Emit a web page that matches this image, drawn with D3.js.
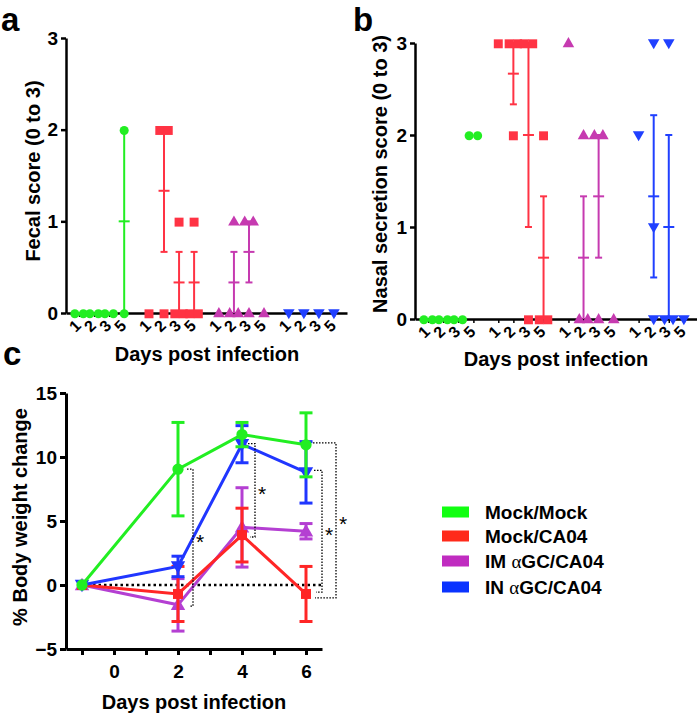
<!DOCTYPE html>
<html><head><meta charset="utf-8">
<script src="https://cdn.jsdelivr.net/npm/d3@7"></script>
<style>
body{margin:0;background:#fff}
text{font-family:"Liberation Sans",Arial,sans-serif;font-weight:bold;fill:#000}
</style>
</head><body>
<svg id="chart" width="697" height="717"></svg>
<script>
// ---------------- DATA ----------------
const groups = ["Mock/Mock", "Mock/CA04", "IM \u03B1GC/CA04", "IN \u03B1GC/CA04"];
const scoreDays = [1, 2, 3, 5];
const scoreDayLabels = ["1", "2", "3", "5"];
const scoreTicks = [0, 1, 2, 3];

// individual scores per day (days 1,2,3,5)
const fecalMockMock = [[0, 0], [0, 0], [0, 0], [0, 2]];
const fecalMockCA04 = [[0], [2, 2, 0], [1, 0, 0], [1, 0, 0]];
const fecalIMaGC    = [[0], [1, 0, 0], [1, 1, 0], [0]];
const fecalINaGC    = [[0], [0], [0], [0]];

const nasalMockMock = [[0, 0], [0, 0], [0, 0], [2, 2]];
const nasalMockCA04 = [[3], [3, 3, 2], [3, 3, 0], [2, 0, 0]];
const nasalIMaGC    = [[3], [2, 0, 0], [2, 2, 0], [0]];
const nasalINaGC    = [[2], [3, 1, 0], [3, 0, 0], [0]];

// body weight change (mean, SEM)
const weightDays = [-1, 2, 4, 6];
const weightTicks = [-5, 0, 5, 10, 15];
const weightMockMock = [0, 9.05, 11.75, 10.95];
const semMockMock    = [0, 3.65, 0.95, 2.5];
const weightMockCA04 = [0, -0.7, 3.9, -0.7];
const semMockCA04    = [0, 2.15, 2.1, 2.15];
const weightIMaGC    = [0, -1.55, 4.5, 4.2];
const semIMaGC       = [0, 2.05, 3.1, 0.6];
const weightINaGC    = [0, 1.45, 11.0, 8.8];
const semINaGC       = [0, 0.8, 1.45, 2.4];

// significance brackets: day, upper value, lower value
const sigDays  = [2, 4, 6, 6];
const sigUpper = [9.05, 11.05, 8.95, 11.1];
const sigLower = [-1.65, 3.75, -0.55, -1.0];
const sigLabel = ["*", "*", "*", "*"];

// ---------------- STYLE ----------------
const scatterColors = ["#22ee22", "#ff3344", "#c63ab0", "#2040ff"];
const lineColors    = ["#22ee22", "#ff2626", "#b43fd2", "#2036ff"];
const legendColors  = ["#11ff11", "#ff2a1a", "#c02cc0", "#0a33ff"];
const symbols = [d3.symbolCircle, d3.symbolSquare, d3.symbolTriangle, d3.symbolTriangle];
const symRot  = [0, 0, 0, 180];

const svg = d3.select("#chart");

function styleAxis(g, w) {
  g.selectAll("path.domain").attr("stroke", "#000").attr("stroke-width", w);
  g.selectAll(".tick line").attr("stroke", "#000").attr("stroke-width", w);
}

// ---------------- SCORE PANELS ----------------
function scorePanel(opt) {
  const series = opt.series;
  const gap = 4.65;
  const slot = (g, i) => g * gap + i;
  const maxSlot = slot(3, 3);
  const x = d3.scaleLinear().domain([-0.87, maxSlot + 0.87]).range([opt.x0, opt.x1]);
  const y = d3.scaleLinear().domain([0, 3]).range([opt.y0, opt.y1]);
  const root = svg.append("g");

  // y axis
  const ya = root.append("g").attr("transform", `translate(${opt.x0},0)`)
    .call(d3.axisLeft(y).tickValues(scoreTicks).tickFormat(d3.format("d")).tickSize(5).tickSizeOuter(0).tickPadding(3));
  styleAxis(ya, 2.5);
  ya.selectAll("text").attr("font-size", 19).style("font-family", '"Liberation Sans",Arial,sans-serif').style("font-weight", "bold");

  // x axis
  const slots = [], labels = [];
  series.forEach((s, g) => scoreDays.forEach((d, i) => { slots.push(slot(g, i)); labels.push(scoreDayLabels[i]); }));
  const xa = root.append("g").attr("transform", `translate(0,${opt.y0})`)
    .call(d3.axisBottom(x).tickValues(slots).tickFormat("").tickSize(4).tickSizeOuter(0));
  styleAxis(xa, 2.5);
  xa.selectAll(".tick line").attr("stroke-width", 1.5);
  root.append("g").selectAll("text").data(slots).join("text")
    .attr("transform", (d) => `translate(${x(d) - 4},${opt.y0 + 13}) rotate(-45)`)
    .attr("text-anchor", "middle").attr("dominant-baseline", "central")
    .attr("font-size", 16).text((d, k) => labels[k]);

  // error bars (mean +/- SEM)
  series.forEach((s, g) => {
    s.forEach((vals, i) => {
      if (vals.length < 2) return;
      const m = d3.mean(vals);
      const se = d3.deviation(vals) / Math.sqrt(vals.length);
      if (!(se > 0)) return;
      const cx = x(slot(g, i));
      const eb = root.append("g").attr("stroke", scatterColors[g]).attr("stroke-width", 2);
      eb.append("line").attr("x1", cx).attr("x2", cx).attr("y1", y(Math.max(0, m - se))).attr("y2", y(m + se));
      eb.append("line").attr("x1", cx - 3.5).attr("x2", cx + 3.5).attr("y1", y(m + se)).attr("y2", y(m + se));
      if (m - se > 0.001)
        eb.append("line").attr("x1", cx - 3.5).attr("x2", cx + 3.5).attr("y1", y(m - se)).attr("y2", y(m - se));
      eb.append("line").attr("x1", cx - 5.5).attr("x2", cx + 5.5).attr("y1", y(m)).attr("y2", y(m));
    });
  });

  // points (duplicates spread horizontally)
  series.forEach((s, g) => {
    const sym = d3.symbol().type(symbols[g]).size(g === 0 ? 64 : g === 1 ? 80 : 58);
    s.forEach((vals, i) => {
      const counts = d3.rollup(vals, (v) => v.length, (v) => v);
      const seen = new Map();
      vals.forEach((v) => {
        const c = counts.get(v);
        const k = seen.get(v) || 0; seen.set(v, k + 1);
        const px = x(slot(g, i)) + (k - (c - 1) / 2) * 8.5;
        root.append("path").attr("d", sym())
          .attr("transform", `translate(${px},${y(v) + (symRot[g] ? -0.5 : 0.8)}) rotate(${symRot[g]})`)
          .attr("fill", scatterColors[g]);
      });
    });
  });

  // titles
  root.append("text").attr("transform", `translate(${opt.ytx},${opt.yty}) rotate(-90)`)
    .attr("text-anchor", "middle").attr("dominant-baseline", "central").attr("font-size", 20).text(opt.yTitle);
  root.append("text").attr("x", opt.xtx).attr("y", opt.xty)
    .attr("text-anchor", "middle").attr("dominant-baseline", "central").attr("font-size", 20).text("Days post infection");
  root.append("text").attr("x", opt.lx).attr("y", opt.ly).attr("font-size", 33).text(opt.letter);
}

scorePanel({
  series: [fecalMockMock, fecalMockCA04, fecalIMaGC, fecalINaGC],
  x0: 66, x1: 347, y0: 313, y1: 38,
  yTitle: "Fecal score (0 to 3)", ytx: 33, yty: 171,
  xtx: 207, xty: 354, letter: "a", lx: 1, ly: 31
});
scorePanel({
  series: [nasalMockMock, nasalMockCA04, nasalIMaGC, nasalINaGC],
  x0: 415, x1: 697, y0: 319, y1: 43,
  yTitle: "Nasal secretion score (0 to 3)", ytx: 380, yty: 174,
  xtx: 556, xty: 359, letter: "b", lx: 353, ly: 31
});

// ---------------- WEIGHT PANEL ----------------
(function () {
  const x = d3.scaleLinear().domain([-1.5, 6.5]).range([66, 322]);
  const y = d3.scaleLinear().domain([-5, 15]).range([649, 393]);
  const root = svg.append("g");

  const ya = root.append("g").attr("transform", "translate(66,0)")
    .call(d3.axisLeft(y).tickValues(weightTicks).tickSize(6).tickSizeOuter(0).tickPadding(3));
  styleAxis(ya, 3);
  ya.selectAll("text").attr("font-size", 19).style("font-family", '"Liberation Sans",Arial,sans-serif').style("font-weight", "bold");

  const xa = root.append("g").attr("transform", "translate(0,649)")
    .call(d3.axisBottom(x).tickValues(d3.range(-1, 7)).tickFormat((d) => (d >= 0 && d % 2 === 0 ? d : "")).tickSize(6).tickSizeOuter(0).tickPadding(10));
  styleAxis(xa, 3);
  xa.selectAll("text").attr("font-size", 19).style("font-family", '"Liberation Sans",Arial,sans-serif').style("font-weight", "bold");

  // zero reference line
  root.append("line").attr("x1", x(-1)).attr("x2", x(6.5)).attr("y1", y(0)).attr("y2", y(0))
    .attr("stroke", "#000").attr("stroke-width", 2.5).attr("stroke-dasharray", "2.5,3");

  const series = [
    { m: weightIMaGC, s: semIMaGC, g: 2 },
    { m: weightMockCA04, s: semMockCA04, g: 1 },
    { m: weightINaGC, s: semINaGC, g: 3 },
    { m: weightMockMock, s: semMockMock, g: 0 }
  ];
  const line = d3.line().x((d) => x(d[0])).y((d) => y(d[1]));
  series.forEach((sr) => {
    const col = lineColors[sr.g];
    const pts = weightDays.map((d, i) => [d, sr.m[i], sr.s[i]]);
    const gg = root.append("g");
    pts.forEach((p) => {
      if (!p[2]) return;
      const cx = x(p[0]);
      const eb = gg.append("g").attr("stroke", col).attr("stroke-width", 3);
      eb.append("line").attr("x1", cx).attr("x2", cx).attr("y1", y(p[1] - p[2])).attr("y2", y(p[1] + p[2]));
      [p[1] - p[2], p[1] + p[2]].forEach((v) =>
        eb.append("line").attr("x1", cx - 6.5).attr("x2", cx + 6.5).attr("y1", y(v)).attr("y2", y(v)));
    });
    gg.append("path").attr("d", line(pts)).attr("fill", "none").attr("stroke", col).attr("stroke-width", 3);
    const sym = d3.symbol().type(symbols[sr.g]).size(sr.g === 1 ? 100 : sr.g === 0 ? 100 : 90);
    pts.forEach((p) => {
      gg.append("path").attr("d", sym())
        .attr("transform", `translate(${x(p[0])},${y(p[1]) + (sr.g === 2 ? 1 : sr.g === 3 ? -1 : 0)}) rotate(${symRot[sr.g]})`)
        .attr("fill", col);
    });
  });

  // significance brackets
  const sigInner = [9, 6, 8, 7];
  const sigOuter = [15, 13, 16, 30];
  sigDays.forEach((d, k) => {
    const cx = x(d);
    const xo = cx + sigOuter[k];
    const p = d3.path();
    p.moveTo(cx + sigInner[k], y(sigUpper[k]));
    p.lineTo(xo, y(sigUpper[k]));
    p.lineTo(xo, y(sigLower[k]));
    p.lineTo(cx + sigInner[k] + 2, y(sigLower[k]));
    root.append("path").attr("d", p.toString()).attr("fill", "none")
      .attr("stroke", "#000").attr("stroke-width", 1.3).attr("stroke-dasharray", "1.5,1.5");
    root.append("text").attr("x", xo + 7).attr("y", (y(sigUpper[k]) + y(sigLower[k])) / 2 + 11)
      .attr("text-anchor", "middle").attr("font-size", 21).style("font-weight", "normal").text(sigLabel[k]);
  });

  root.append("text").attr("transform", "translate(20,517) rotate(-90)")
    .attr("text-anchor", "middle").attr("dominant-baseline", "central").attr("font-size", 20).text("% Body weight change");
  root.append("text").attr("x", 194).attr("y", 702)
    .attr("text-anchor", "middle").attr("dominant-baseline", "central").attr("font-size", 20).text("Days post infection");
  root.append("text").attr("x", 3).attr("y", 365).attr("font-size", 33).text("c");

  // legend
  const lg = root.append("g");
  const rowY = [512, 536, 561, 587];
  groups.forEach((name, i) => {
    lg.append("rect").attr("x", 442).attr("y", rowY[i] - 5.5).attr("width", 27).attr("height", 11).attr("fill", legendColors[i]);
    const t = lg.append("text").attr("x", 485).attr("y", rowY[i]).attr("dominant-baseline", "central").attr("font-size", 19);
    const parts = name.split("\u03B1");
    t.append("tspan").text(parts[0]);
    if (parts.length > 1) {
      t.append("tspan").style("font-family", '"Liberation Serif",serif').style("font-weight", "normal").text("\u03B1");
      t.append("tspan").text(parts[1]);
    }
  });
})();
</script>
</body></html>
